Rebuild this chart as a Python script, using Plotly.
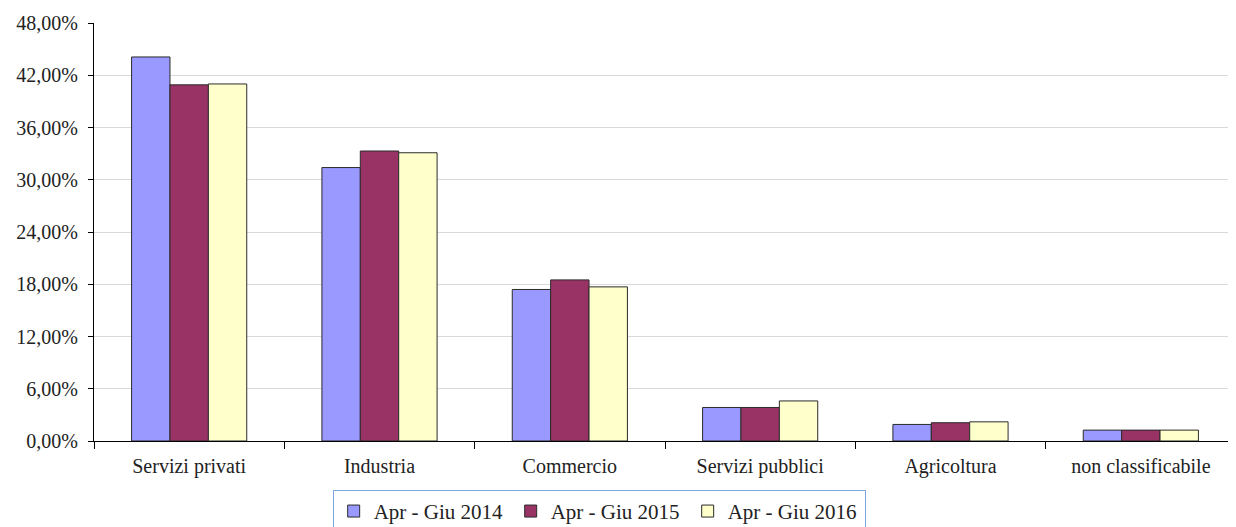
import plotly.graph_objects as go

categories = ["Servizi privati", "Industria", "Commercio", "Servizi pubblici", "Agricoltura", "non classificabile"]
series_names = ["Apr - Giu 2014", "Apr - Giu 2015", "Apr - Giu 2016"]
val_2014 = [44.1, 31.4, 17.4, 3.85, 1.9, 1.25]
val_2015 = [40.9, 33.3, 18.5, 3.85, 2.1, 1.25]
val_2016 = [41.0, 33.1, 17.7, 4.6, 2.2, 1.25]
tick_vals = [0, 6, 12, 18, 24, 30, 36, 42, 48]
tick_text = ["0,00%", "6,00%", "12,00%", "18,00%", "24,00%", "30,00%", "36,00%", "42,00%", "48,00%"]

colors = ["#9999ff", "#993366", "#ffffcc"]
font_family = "Liberation Serif, DejaVu Serif, serif"

fig = go.Figure()
for name, vals, col in zip(series_names, [val_2014, val_2015, val_2016], colors):
    fig.add_trace(go.Bar(
        x=categories, y=vals, name=name,
        marker=dict(color=col, line=dict(color="#2b2b2b", width=1)),
    ))

# page body has an 8px margin, so the figure is sized/offset to compensate
fig.update_layout(
    width=1228, height=519,
    barmode="group", bargap=0.395, bargroupgap=0,
    plot_bgcolor="white", paper_bgcolor="white",
    margin=dict(l=86, r=0, t=15, b=86, autoexpand=False),
    font=dict(family=font_family, size=20, color="#222222"),
    showlegend=True,
    legend=dict(
        orientation="h", x=0.209, y=-0.117, xanchor="left", yanchor="top",
        bordercolor="#7ea6e0", borderwidth=1, bgcolor="white",
        font=dict(family=font_family, size=21, color="#222222"),
        itemwidth=30, tracegroupgap=0,
        entrywidth=132, entrywidthmode="pixels",
    ),
)
fig.update_yaxes(
    range=[0, 48], tickvals=tick_vals, ticktext=tick_text,
    showgrid=True, gridcolor="#d9d9d9", gridwidth=1,
    showline=True, linecolor="black", linewidth=1,
    ticks="outside", ticklen=5, tickcolor="black",
    ticklabelstandoff=6,
    zeroline=False, automargin=False,
)
fig.update_xaxes(
    showline=True, linecolor="black", linewidth=1,
    ticks="outside", tickson="boundaries", ticklen=7, tickcolor="black",
    ticklabelstandoff=7,
    showgrid=False, automargin=False,
)

fig.write_html("out.html")
